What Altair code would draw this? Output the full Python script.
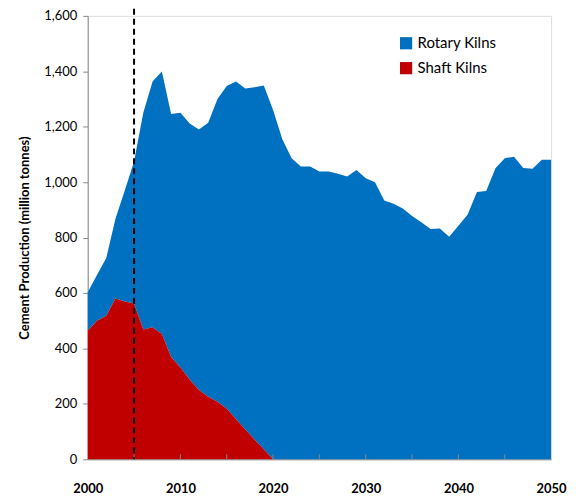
import altair as alt
import pandas as pd

years = list(range(2000, 2051))

# top edge of the stacked areas (total production, million tonnes)
total = [603, 665, 726, 869, 970, 1074, 1250, 1363, 1399, 1246,
         1250, 1212, 1190, 1214, 1300, 1347, 1363, 1338, 1342, 1349,
         1260, 1155, 1086, 1056, 1056, 1038, 1038, 1030, 1020, 1044,
         1014, 1000, 934, 922, 905, 878, 855, 831, 833, 803,
         843, 883, 964, 968, 1050, 1086, 1092, 1051, 1048, 1081,
         1081]

shaft = [464, 500, 518, 580, 569, 562, 468, 476, 452, 369,
         331, 288, 250, 226, 208, 182, 145, 107, 71, 36,
         0] + [0] * 30

rotary = [t - s for t, s in zip(total, shaft)]

series = ["Rotary Kilns", "Shaft Kilns"]
colors = ["#0070C0", "#C00000"]

rows = []
for i, y in enumerate(years):
    rows.append({"year": y, "series": "Rotary Kilns", "value": rotary[i], "ord": 1})
    rows.append({"year": y, "series": "Shaft Kilns", "value": shaft[i], "ord": 0})
df = pd.DataFrame(rows)

FONT = "Lato"
H = 445

area = alt.Chart(df).mark_area(interpolate="linear").encode(
    x=alt.X("year:Q", scale=alt.Scale(domain=[2000, 2050], nice=False, zero=False),
            axis=alt.Axis(values=[2000, 2010, 2020, 2030, 2040, 2050], format="d",
                          title=None, grid=False, labelFontWeight="bold",
                          labelFontSize=13, labelPadding=23, tickSize=0,
                          labelFlush=False,
                          domainColor="#888888", labelColor="#000000")),
    y=alt.Y("value:Q", stack="zero", scale=alt.Scale(domain=[0, 1600], nice=False),
            axis=alt.Axis(values=list(range(0, 1601, 200)), format=",d",
                          title="Cement Production (million tonnes)",
                          titleFontSize=13, titleFontWeight="bold", titlePadding=12,
                          labelFontSize=13, labelPadding=6, grid=False,
                          tickSize=5, tickColor="#888888", domainColor="#888888",
                          labelColor="#000000", titleColor="#000000")),
    color=alt.Color("series:N", scale=alt.Scale(domain=series, range=colors),
                    legend=alt.Legend(title=None, orient="none", legendX=312, legendY=20,
                                      symbolType="square", symbolSize=150,
                                      symbolStrokeWidth=0, labelFontSize=15,
                                      rowPadding=9, labelFont=FONT,
                                      labelColor="#000000")),
    order=alt.Order("ord:Q"),
)

tick_years = pd.DataFrame({"year": [2005, 2010, 2015, 2020, 2025, 2030, 2035, 2040, 2045]})
xticks = alt.Chart(tick_years).mark_rule(color="#888888", strokeWidth=1).encode(
    x="year:Q", y=alt.value(H), y2=alt.value(H - 5)
)

vline = alt.Chart(pd.DataFrame({"year": [2005]})).mark_rule(
    color="#000000", strokeDash=[6, 4], strokeWidth=2
).encode(x="year:Q", y=alt.value(-7), y2=alt.value(H))

chart = alt.layer(area, xticks, vline).properties(
    width=465, height=H,
    autosize=alt.AutoSizeParams(type="none"),
    padding={"left": 80, "top": 7, "right": 20, "bottom": 40},
).configure_view(stroke=None).configure(font=FONT)

chart.save("out.html", embed_options={"renderer": "svg", "actions": False})
